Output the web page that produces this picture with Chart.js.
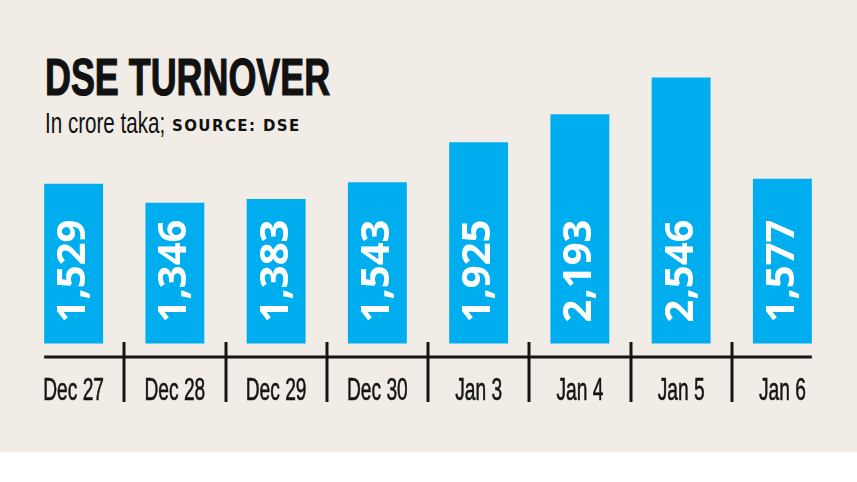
<!DOCTYPE html>
<html>
<head>
<meta charset="utf-8">
<script src="https://cdn.jsdelivr.net/npm/chart.js@4.4.1/dist/chart.umd.min.js"></script>
<style>
  html, body { margin: 0; padding: 0; background: #ffffff; }
  #wrap { position: relative; width: 857px; height: 482px; overflow: hidden; }
  #paper { position: absolute; left: 0; top: 0; width: 857px; height: 452px; background: #f1ede6; }
  #chart { position: absolute; left: 0; top: 0; }
  .txt { position: absolute; white-space: nowrap; color: #111; transform-origin: left top; }
  #title { left: 45px; top: 51px; font: bold 52px/52px "Liberation Sans", sans-serif; transform: scaleX(0.69); -webkit-text-stroke: 1.2px #111; }
  #sub { left: 45px; top: 109px; font: 29px/29px "Liberation Sans", sans-serif; transform: scaleX(0.71); }
  #src { left: 172px; top: 119px; font: bold 15px/15px "DejaVu Sans", sans-serif; letter-spacing: 1.4px; }
</style>
</head>
<body>
<div id="wrap">
  <div id="paper"></div>
  <div class="txt" id="title">DSE TURNOVER</div>
  <div class="txt" id="sub">In crore taka;</div>
  <div class="txt" id="src">SOURCE: DSE</div>
  <canvas id="chart" width="857" height="482"></canvas>
</div>
<script>
// daily turnover, in crore taka
const days = ['Dec 27', 'Dec 28', 'Dec 29', 'Dec 30', 'Jan 3', 'Jan 4', 'Jan 5', 'Jan 6'];
const turnover = [1529, 1346, 1383, 1543, 1925, 2193, 2546, 1577];

const barBlue = '#00aeef';
const ink = '#151515';

// axis line, dividers, day labels and the numbers inside the bars
const decorations = {
  id: 'decorations',
  afterDatasetsDraw(chart) {
    const ctx = chart.ctx;
    const x = chart.scales.x;
    const bars = chart.getDatasetMeta(0).data;
    const axisY = chart.chartArea.bottom;

    ctx.save();
    ctx.strokeStyle = ink;
    ctx.lineWidth = 3;

    // base line, from first bar edge to last bar edge
    const first = bars[0], last = bars[bars.length - 1];
    ctx.beginPath();
    ctx.moveTo(first.x - first.width / 2, axisY);
    ctx.lineTo(last.x + last.width / 2, axisY);
    ctx.stroke();

    // dividers between the days
    for (let i = 0; i < days.length - 1; i++) {
      const px = Math.round(x.getPixelForValue(i + 0.5));
      ctx.beginPath();
      ctx.moveTo(px, axisY - 15);
      ctx.lineTo(px, axisY + 45);
      ctx.stroke();
    }

    // day labels (condensed)
    ctx.fillStyle = ink;
    ctx.font = '32px "Liberation Sans", sans-serif';
    ctx.textAlign = 'center';
    ctx.textBaseline = 'alphabetic';
    ctx.lineWidth = 0.6;
    days.forEach((d, i) => {
      ctx.save();
      ctx.translate(x.getPixelForValue(i), axisY + 43);
      ctx.scale(0.6, 1);
      ctx.fillText(d, 0, 0);
      ctx.strokeText(d, 0, 0);
      ctx.restore();
    });

    // values, turned on their side
    ctx.fillStyle = '#ffffff';
    ctx.font = 'bold 40px "Open Sans", sans-serif';
    ctx.textAlign = 'left';
    bars.forEach((bar, i) => {
      ctx.save();
      ctx.translate(bar.x + 11.5, bar.base - 21);
      ctx.rotate(-Math.PI / 2);
      ctx.fillText(turnover[i].toLocaleString('en-US'), 0, 0);
      ctx.restore();
    });
    ctx.restore();
  }
};

new Chart(document.getElementById('chart'), {
  type: 'bar',
  data: {
    labels: days,
    datasets: [{
      data: turnover,
      backgroundColor: barBlue,
      borderWidth: 0,
      barPercentage: 0.582,
      categoryPercentage: 1
    }]
  },
  options: {
    responsive: false,
    animation: false,
    layout: { padding: { left: 23, right: 24, top: 30, bottom: 125 } },
    plugins: {
      legend: { display: false },
      tooltip: { enabled: false },
      title: { display: false }
    },
    scales: {
      x: { display: false, offset: true },
      y: { display: false, min: -130, max: 3000 }
    }
  },
  plugins: [decorations]
});
</script>
</body>
</html>
